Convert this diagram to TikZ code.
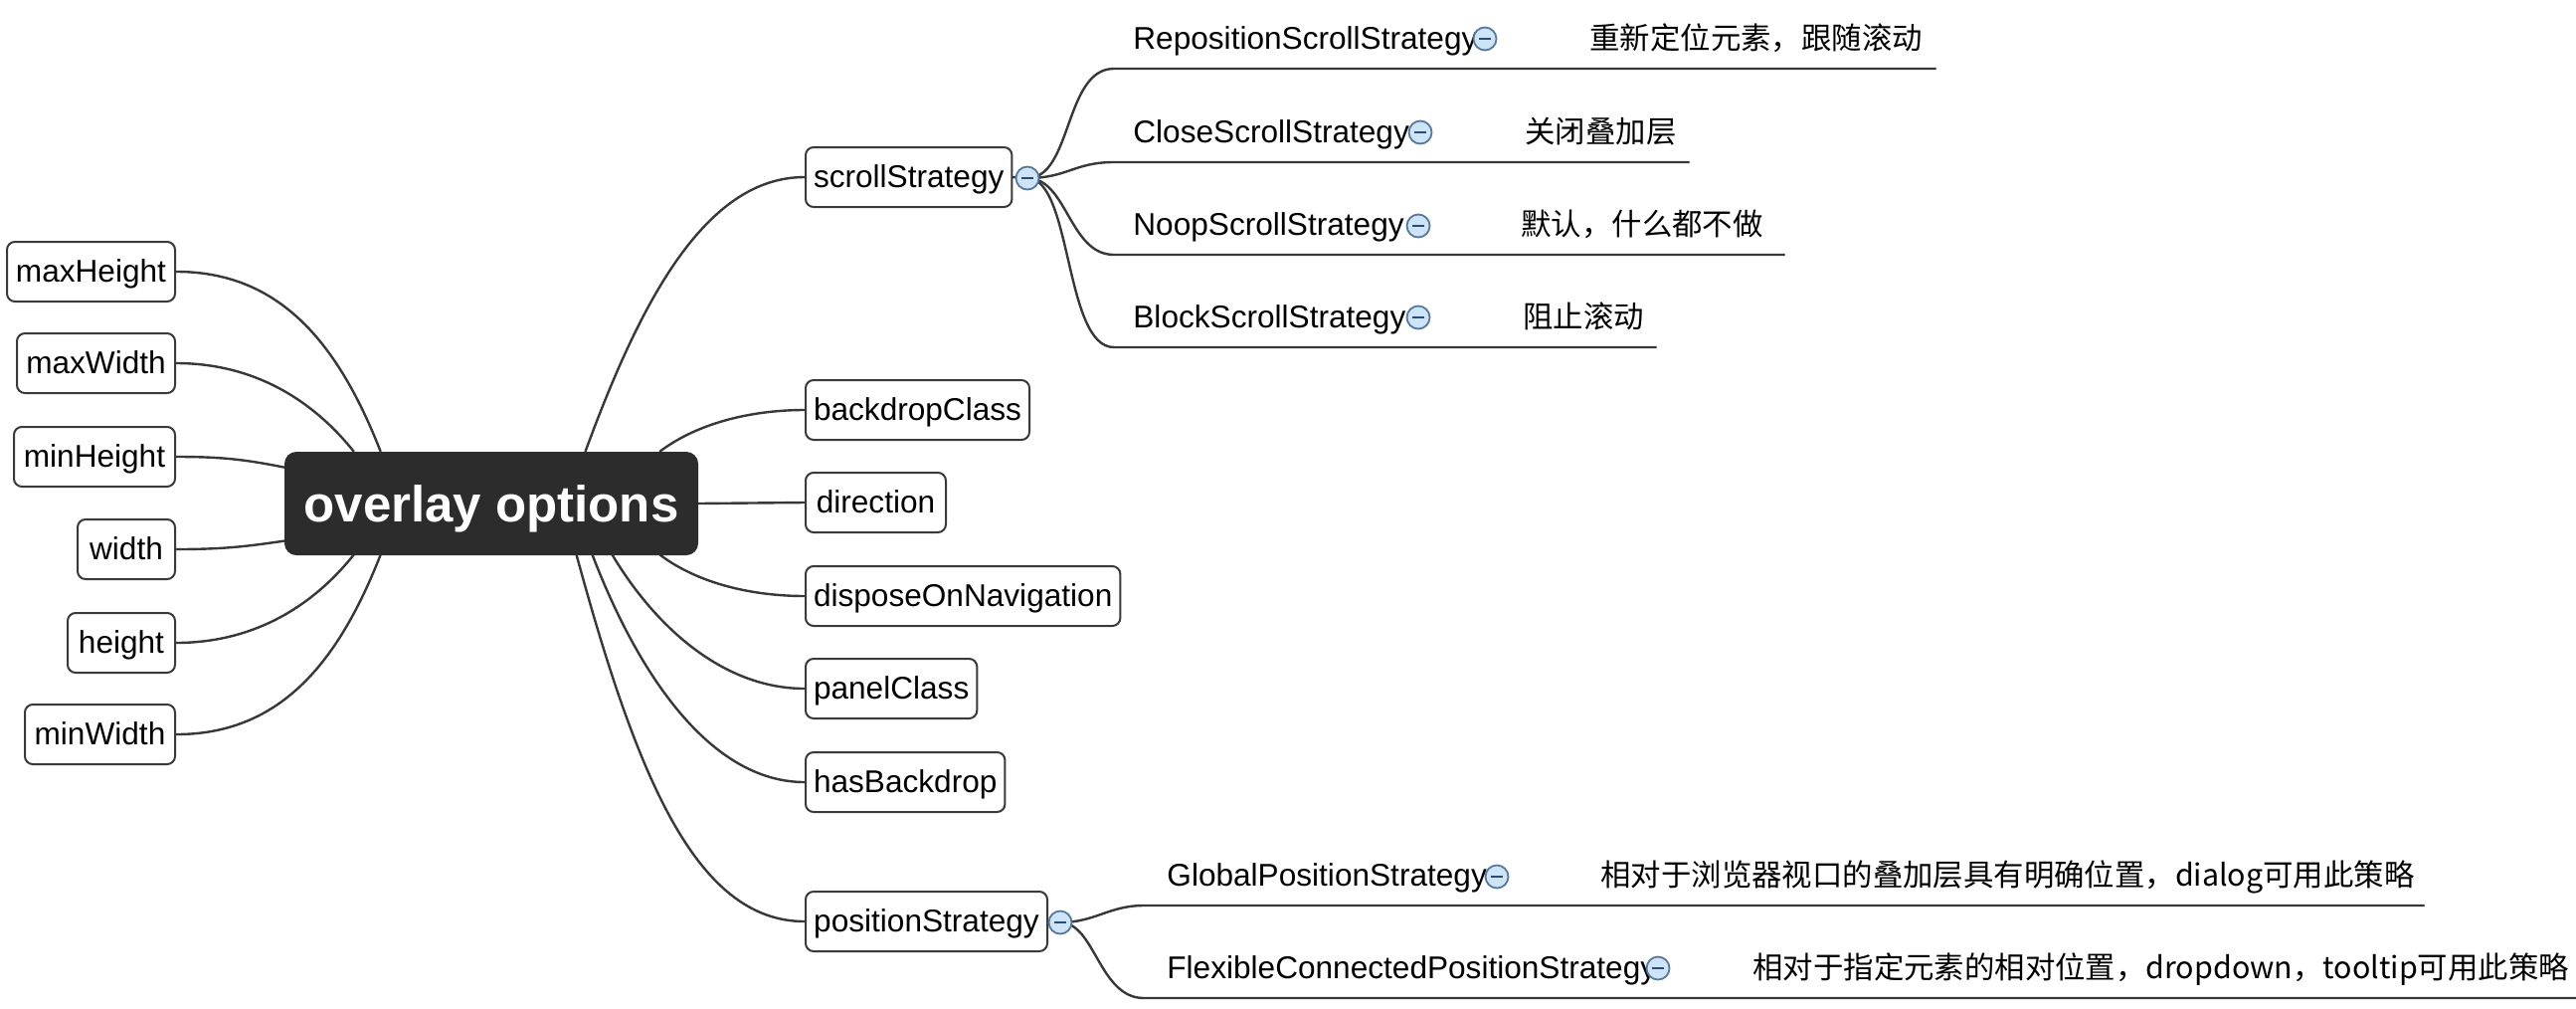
\documentclass[tikz,border=0pt]{standalone}
\usepackage{fontspec}
\setmainfont{Liberation Sans}
\newfontfamily\cjk{Noto Sans CJK SC}
\usetikzlibrary{calc}
\definecolor{linec}{HTML}{383838}
\definecolor{boxc}{HTML}{3A3A3A}
\definecolor{rootc}{HTML}{2C2C2C}
\definecolor{foldf}{HTML}{CDE4F7}
\definecolor{foldb}{HTML}{56789F}
\definecolor{foldm}{HTML}{2F4A70}
\pgfdeclarelayer{bg}
\pgfsetlayers{bg,main}
\begin{document}
\begin{tikzpicture}[x=0.5pt,y=-0.5pt,
  linkline/.style={draw=linec, line width=1.2pt, line cap=round},
  box/.style={draw=boxc, line width=1pt, rounded corners=4pt, fill=white,
    minimum height=30pt, inner xsep=4pt, inner ysep=0pt,
    text height=12pt, text depth=1.5pt,
    font=\fontsize{15.8}{19}\selectfont},
  rootbox/.style={fill=rootc, rounded corners=6pt, minimum width=208pt,
    minimum height=52pt, text=white, inner sep=0pt,
    text height=18.5pt, text depth=0pt,
    font=\bfseries\fontsize{25.5}{30}\selectfont},
  lbl/.style={anchor=base west, inner sep=0pt, font=\fontsize{15.8}{19}\selectfont},
  zh/.style={anchor=base west, inner sep=0pt, font=\cjk\fontsize{15.2}{18}\selectfont},
  fold/.style={circle, draw=foldb, fill=foldf, line width=0.9pt,
    minimum size=11.5pt, inner sep=0pt,
    path picture={\draw[foldm, line width=1.3pt]
      ([xshift=-3pt]path picture bounding box.center) --
      ([xshift=3pt]path picture bounding box.center);}}
]
\useasboundingbox (0,0) rectangle (2590,1013);

% root
\node[rootbox] (root) at (494,506) {overlay options};

% left nodes
\node[box, anchor=east, minimum width=84.5pt] (maxh) at (177,273) {maxHeight};
\node[box, anchor=east, minimum width=79.5pt] (maxw) at (177,365) {maxWidth};
\node[box, anchor=east, minimum width=81pt] (minh) at (177,459) {minHeight};
\node[box, anchor=east, minimum width=49pt] (wid) at (177,552) {width};
\node[box, anchor=east, minimum width=54pt] (hei) at (177,646) {height};
\node[box, anchor=east, minimum width=75.5pt] (minw) at (177,738) {minWidth};

% right nodes
\node[box, anchor=west, minimum width=103.5pt] (scroll) at (809,178) {scrollStrategy};
\node[box, anchor=west, minimum width=111.5pt] (backdrop) at (809,412) {backdropClass};
\node[box, anchor=west, minimum width=70.5pt] (dir) at (809,505) {direction};
\node[box, anchor=west, minimum width=155.5pt] (dispose) at (809,599) {disposeOnNavigation};
\node[box, anchor=west, minimum width=85.5pt] (panel) at (809,692) {panelClass};
\node[box, anchor=west, minimum width=99.5pt] (hasb) at (809,786) {hasBackdrop};
\node[box, anchor=west, minimum width=121.5pt] (pos) at (809,926) {positionStrategy};

% fold markers of level-2 nodes
\node[fold] (sf) at (1033,179) {};
\node[fold] (pf) at (1066,927) {};

% scroll strategies
\node[lbl] (rep) at (1139,49) {RepositionScrollStrategy};
\node[fold] (repf) at (1493,39) {};
\node[zh] (repz) at (1598,49) {重新定位元素，跟随滚动};

\node[lbl] (clo) at (1139,143) {CloseScrollStrategy};
\node[fold] (clof) at (1428,133) {};
\node[zh] (cloz) at (1533,143) {关闭叠加层};

\node[lbl] (noop) at (1139,236) {NoopScrollStrategy};
\node[fold] (noopf) at (1426,227) {};
\node[zh] (noopz) at (1529,236) {默认，什么都不做};

\node[lbl] (blk) at (1139,329) {BlockScrollStrategy};
\node[fold] (blkf) at (1426,319) {};
\node[zh] (blkz) at (1531,329) {阻止滚动};

% position strategies
\node[lbl] (glo) at (1173,890) {GlobalPositionStrategy};
\node[fold] (glof) at (1505,881) {};
\node[zh] (gloz) at (1609,890) {相对于浏览器视口的叠加层具有明确位置，dialog可用此策略};

\node[lbl] (flx) at (1173,983) {FlexibleConnectedPositionStrategy};
\node[fold] (flxf) at (1667,973) {};
\node[zh] (flxz) at (1762,983) {相对于指定元素的相对位置，dropdown，tooltip可用此策略};

% underline endpoints
\coordinate (repA) at (1120,69);  \coordinate (repB) at (1946,69);
\coordinate (cloA) at (1120,163); \coordinate (cloB) at (1698,163);
\coordinate (noopA) at (1120,256); \coordinate (noopB) at (1794,256);
\coordinate (blkA) at (1120,349); \coordinate (blkB) at (1665,349);
\coordinate (gloA) at (1150,910); \coordinate (gloB) at (2437,910);
\coordinate (flxA) at (1150,1003); \coordinate (flxB) at (2590,1003);

\begin{pgfonlayer}{bg}
% left connectors
\draw[linkline] ($(root.north west)+(97,0)$) .. controls +(-45,-115) and +(100,0) .. (maxh.east);
\draw[linkline] ($(root.north west)+(70,0)$) .. controls +(-40,-50) and +(80,0) .. (maxw.east);
\draw[linkline] ($(root.north west)+(0,16)$) .. controls +(-40,-8) and +(45,0) .. (minh.east);
\draw[linkline] ($(root.north west)+(0,90)$) .. controls +(-40,6) and +(45,0) .. (wid.east);
\draw[linkline] ($(root.north west)+(70,104)$) .. controls +(-40,50) and +(80,0) .. (hei.east);
\draw[linkline] ($(root.north west)+(97,104)$) .. controls +(-45,115) and +(100,0) .. (minw.east);
% right connectors
\draw[linkline] ($(root.north west)+(303,0)$) .. controls +(55,-150) and +(-100,0) .. (scroll.west);
\draw[linkline] ($(root.north west)+(378,0)$) .. controls +(40,-30) and +(-50,0) .. (backdrop.west);
\draw[linkline] (root.east) -- (dir.west);
\draw[linkline] ($(root.north west)+(378,104)$) .. controls +(40,30) and +(-50,0) .. (dispose.west);
\draw[linkline] ($(root.north west)+(330,104)$) .. controls +(45,75) and +(-80,0) .. (panel.west);
\draw[linkline] ($(root.north west)+(310,104)$) .. controls +(50,130) and +(-90,0) .. (hasb.west);
\draw[linkline] ($(root.north west)+(294,104)$) .. controls +(60,220) and +(-110,0) .. (pos.west);
% node to fold marker
\draw[linkline] (scroll.east) -- (sf.center);
\draw[linkline] (pos.east) -- (pf.center);
% level-3 connectors with underlines
\draw[linkline] (sf.center) .. controls +(45,0) and +(-50,0) .. (repA) -- (repB);
\draw[linkline] (sf.center) .. controls +(40,0) and +(-40,0) .. (cloA) -- (cloB);
\draw[linkline] (sf.center) .. controls +(40,0) and +(-45,0) .. (noopA) -- (noopB);
\draw[linkline] (sf.center) .. controls +(45,0) and +(-50,0) .. (blkA) -- (blkB);
\draw[linkline] (pf.center) .. controls +(35,0) and +(-35,0) .. (gloA) -- (gloB);
\draw[linkline] (pf.center) .. controls +(35,0) and +(-45,0) .. (flxA) -- (flxB);
\end{pgfonlayer}
\end{tikzpicture}
\end{document}
